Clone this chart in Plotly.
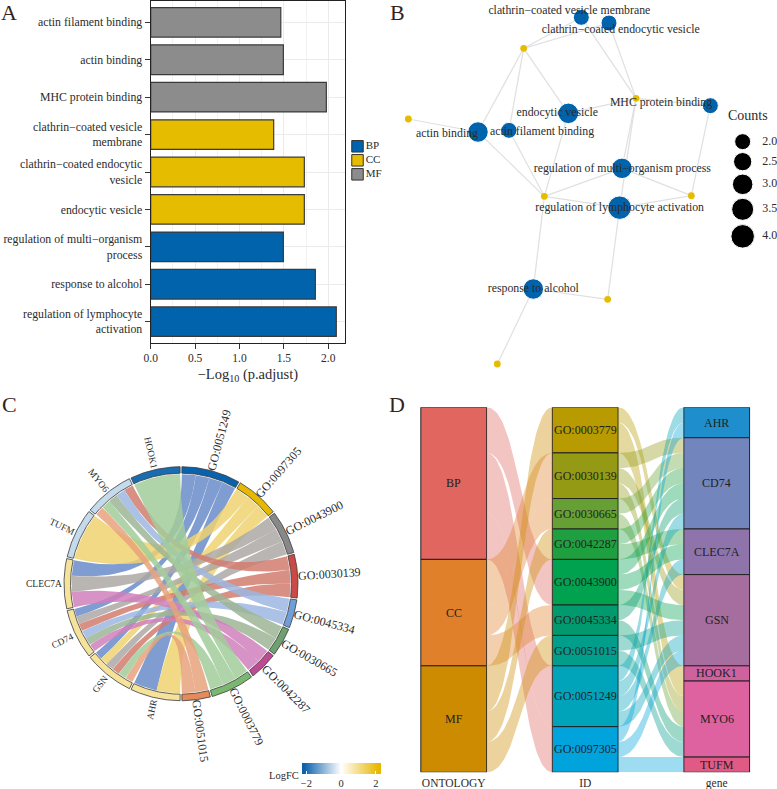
import numpy as np
import plotly.graph_objects as go

W, H = 777, 789
FONT = "Liberation Serif"
TXT = "#2b2b2b"

# ---------- data ----------
terms = ["GO:0051249", "GO:0097305", "GO:0043900", "GO:0030139", "GO:0045334",
         "GO:0030665", "GO:0042287", "GO:0003779", "GO:0051015"]
term_desc = ["regulation of lymphocyte activation", "response to alcohol",
             "regulation of multi−organism process", "endocytic vesicle",
             "clathrin−coated endocytic vesicle", "clathrin−coated vesicle membrane",
             "MHC protein binding", "actin binding", "actin filament binding"]
term_ontology = ["BP", "BP", "BP", "CC", "CC", "CC", "MF", "MF", "MF"]
bar_values = [2.09, 1.854, 1.494, 1.73, 1.73, 1.385, 1.978, 1.494, 1.465]
bar_labels = ["regulation of lymphocyte<br>activation", "response to alcohol",
              "regulation of multi−organism<br>process", "endocytic vesicle",
              "clathrin−coated endocytic<br>vesicle", "clathrin−coated vesicle<br>membrane",
              "MHC protein binding", "actin binding", "actin filament binding"]
ontologies = ["BP", "CC", "MF"]
genes = ["AHR", "GSN", "CD74", "CLEC7A", "TUFM", "MYO6", "HOOK1"]
gene_logfc = [0.9, 0.9, 0.9, 0.9, -0.53, -0.53, -2.1]
AHR_terms = ["GO:0051249", "GO:0097305"]
GSN_terms = ["GO:0003779", "GO:0030139", "GO:0043900", "GO:0051015", "GO:0051249", "GO:0097305"]
CD74_terms = ["GO:0030139", "GO:0030665", "GO:0042287", "GO:0043900", "GO:0045334", "GO:0051249"]
CLEC7A_terms = ["GO:0042287", "GO:0043900", "GO:0051249"]
TUFM_terms = ["GO:0097305"]
MYO6_terms = ["GO:0003779", "GO:0030139", "GO:0030665", "GO:0045334", "GO:0051015"]
HOOK1_terms = ["GO:0003779"]
gene_terms = dict(AHR=AHR_terms, GSN=GSN_terms, CD74=CD74_terms, CLEC7A=CLEC7A_terms,
                  TUFM=TUFM_terms, MYO6=MYO6_terms, HOOK1=HOOK1_terms)

# network layout (arbitrary layout units)
term_layout_x = [689, 430, 696, 535, 657, 574, 961, 264, 357]
term_layout_y = [623, 867, 505, 340, 69, 52, 317, 396, 391]
label_layout_x = [689, 430, 697, 502, 692, 538, 813, 171, 456]
label_layout_y = [624, 868, 507, 339, 90, 33, 310, 403, 397]
gene_layout_x = [653, 463, 738, 904, 322, 401, 55]
gene_layout_y = [898, 589, 295, 587, 1092, 145, 357]
legend_counts = [2.0, 2.5, 3.0, 3.5, 4.0]

# ---------- style ----------
ONT_COL = dict(BP="#0063AC", CC="#E6BC00", MF="#8C8C8C")
RING_COL = ["#0a62ac", "#e6b800", "#888888", "#c94a46", "#6f9ed8", "#6ea070", "#bf4a94", "#7ab872", "#e58a5a"]
RIB_COL = ["#6a8cca", "#eed270", "#aca8a4", "#d27c6e", "#9cb6e0", "#9cb594", "#d07fbc", "#a2cc9a", "#e8a27c"]
ALLUV_COL = {"BP": "#E0665F", "CC": "#E0802A", "MF": "#CC8B00",
             "GO:0003779": "#B89B00", "GO:0030139": "#949A14", "GO:0030665": "#66A034",
             "GO:0042287": "#1FA040", "GO:0043900": "#00A14F", "GO:0045334": "#009A6E",
             "GO:0051015": "#009E8B", "GO:0051249": "#00A4BA", "GO:0097305": "#00A3DC",
             "AHR": "#1E8FCC", "CD74": "#7286BD", "CLEC7A": "#8E74AB", "GSN": "#A66D9F",
             "HOOK1": "#CE619E", "MYO6": "#DF62A0", "TUFM": "#E05A85"}


def dx(a, b):
    return [a / W, b / W]


def dy(top, bot):
    return [1 - bot / H, 1 - top / H]


def rgba(h, a):
    h = h.lstrip("#")
    return f"rgba({int(h[0:2],16)},{int(h[2:4],16)},{int(h[4:6],16)},{a})"


fig = go.Figure()
ann = []

# ---------- panel A ----------
for ont in ontologies:
    idx = [i for i, o in enumerate(term_ontology) if o == ont]
    fig.add_bar(x=[bar_values[i] for i in idx], y=[bar_labels[i] for i in idx], orientation="h",
                width=0.79, marker=dict(color=ONT_COL[ont], line=dict(color="#3a3a3a", width=1.2)),
                xaxis="x", yaxis="y", showlegend=False)
fig.add_scatter(x=[0, 0, 0], y=[0, 1, 2], mode="markers+text", text=ontologies, textposition="middle right",
                textfont=dict(family=FONT, size=11, color=TXT),
                marker=dict(symbol="square", size=11.5, opacity=1, color=[ONT_COL[o] for o in ontologies],
                            line=dict(color="#333333", width=1)),
                xaxis="x5", yaxis="y5", showlegend=False, cliponaxis=False)

# ---------- panel B ----------
size_of = lambda c: np.interp(c, [1, 2, 3, 4], [6.8, 16, 20.5, 23.5])
ex, ey = [], []
for gi, g in enumerate(genes):
    for t in gene_terms[g]:
        k = terms.index(t)
        ex += [gene_layout_x[gi], term_layout_x[k], None]
        ey += [gene_layout_y[gi], term_layout_y[k], None]
fig.add_scatter(x=ex, y=ey, mode="lines", line=dict(color="#e0e0e0", width=1.2), xaxis="x2", yaxis="y2",
                showlegend=False)
term_counts = [sum(t in gene_terms[g] for g in genes) for t in terms]
fig.add_scatter(x=gene_layout_x, y=gene_layout_y, mode="markers",
                marker=dict(color="#E6BC00", size=float(size_of(1)), opacity=1),
                xaxis="x2", yaxis="y2", showlegend=False)
fig.add_scatter(x=term_layout_x, y=term_layout_y, mode="markers",
                marker=dict(color="#0063AC", opacity=1, size=[float(size_of(c)) for c in term_counts]),
                xaxis="x2", yaxis="y2", showlegend=False)
fig.add_scatter(x=label_layout_x, y=label_layout_y, mode="text", text=term_desc,
                textfont=dict(family=FONT, size=11.8, color=TXT), xaxis="x2", yaxis="y2",
                showlegend=False, cliponaxis=False)
legend_y = [425, 485, 553, 628, 709]
fig.add_scatter(x=[1058] * 5, y=legend_y, mode="markers",
                marker=dict(color="#000000", opacity=1, size=[float(size_of(c)) for c in legend_counts]),
                xaxis="x2", yaxis="y2", showlegend=False, cliponaxis=False)
fig.add_scatter(x=[1117] * 5, y=legend_y, mode="text", text=[f"{c:.1f}" for c in legend_counts],
                textposition="middle right", textfont=dict(family=FONT, size=12, color=TXT),
                xaxis="x2", yaxis="y2", showlegend=False, cliponaxis=False)
ann.append(dict(x=1009, y=345, xref="x2", yref="y2", text="Counts", showarrow=False, xanchor="left",
                font=dict(family=FONT, size=14, color=TXT)))

# ---------- panel C ----------
R_OUT, R_IN, R_RIB = 117, 110.5, 109.5
PAD = 0.45
step_t = 180 / 24
step_g = 180 / 7


def pol(r, deg):
    th = np.radians(deg)
    return r * np.sin(th), r * np.cos(th)


t_start, a = {}, 0.0
t_span = {}
for k, t in enumerate(terms):
    t_start[t] = a
    t_span[t] = term_counts[k] * step_t
    a += t_span[t]
g_start = {g: 180 + i * step_g for i, g in enumerate(genes)}


def lin_col(v):
    low, hi = (10, 98, 172), (230, 184, 0)
    c = low if v < 0 else hi
    f = min(abs(v) / (2.25 if v < 0 else 2.3), 1)
    return "rgb(%d,%d,%d)" % tuple(255 + (x - 255) * f for x in c)


def bez(p0, p1, n=40):
    s = np.linspace(0, 1, n)
    return ((1 - s) ** 2 * p0[0] + s ** 2 * p1[0], (1 - s) ** 2 * p0[1] + s ** 2 * p1[1])


# angular slots of every link
link_term, link_gene = {}, {}
for k, t in enumerate(terms):
    gl = [g for g in genes if t in gene_terms[g]][::-1]
    w = (t_span[t] - 2 * PAD) / len(gl)
    for j, g in enumerate(gl):
        s = t_start[t] + PAD + j * w
        link_term[(t, g)] = (s, s + w)
for g in genes:
    tl = [t for t in terms if t in gene_terms[g]][::-1]
    w = (step_g - 2 * PAD) / len(tl)
    for j, t in enumerate(tl):
        s = g_start[g] + PAD + j * w
        link_gene[(t, g)] = (s, s + w)

for k, t in enumerate(terms):
    for g in genes:
        if t not in gene_terms[g]:
            continue
        a1, a2 = link_term[(t, g)]
        g1, g2 = link_gene[(t, g)]
        ta = np.linspace(a1, a2, 20)
        ga = np.linspace(g1, g2, 20)
        x1, y1 = pol(R_RIB, ta)
        x2, y2 = bez(pol(R_RIB, a2), pol(R_RIB, g1))
        x3, y3 = pol(R_RIB, ga)
        x4, y4 = bez(pol(R_RIB, g2), pol(R_RIB, a1))
        fig.add_scatter(x=np.r_[x1, x2, x3, x4], y=np.r_[y1, y2, y3, y4], mode="lines", fill="toself",
                        fillcolor=rgba(RIB_COL[k], 0.85), line=dict(width=0), xaxis="x3", yaxis="y3",
                        showlegend=False, hoverinfo="skip")


def ring(s, e, col):
    ang = np.linspace(s + PAD, e - PAD, 40)
    xo, yo = pol(R_OUT, ang)
    xi, yi = pol(R_IN, ang[::-1])
    fig.add_scatter(x=np.r_[xo, xi, xo[0]], y=np.r_[yo, yi, yo[0]], mode="lines", fill="toself", fillcolor=col,
                    line=dict(color="#3a3a3a", width=0.8), xaxis="x3", yaxis="y3", showlegend=False, hoverinfo="skip")


for k, t in enumerate(terms):
    ring(t_start[t], t_start[t] + t_span[t], RING_COL[k])
    mid = t_start[t] + t_span[t] / 2
    x, y = pol(148.5, mid)
    ann.append(dict(x=x, y=y, xref="x3", yref="y3", text=t, textangle=mid - 90, showarrow=False,
                    font=dict(family=FONT, size=12, color=TXT)))
for i, g in enumerate(genes):
    ring(g_start[g], g_start[g] + step_g, lin_col(gene_logfc[i]))
    mid = g_start[g] + step_g / 2
    x, y = pol(R_OUT + 3 + len(g) * 2.9, mid)
    ann.append(dict(x=x, y=y, xref="x3", yref="y3", text=g, textangle=(mid + 90) % 360 if (mid + 90) % 360 < 180 else (mid + 90) % 360 - 360,
                    showarrow=False, font=dict(family=FONT, size=9.5, color=TXT)))
# colour bar legend driven by the gene fold changes
fig.add_scatter(x=[0] * 7, y=[0] * 7, mode="markers", marker=dict(color=gene_logfc, coloraxis="coloraxis", size=1, opacity=0),
                xaxis="x3", yaxis="y3", showlegend=False, hoverinfo="skip")
ann.append(dict(x=284 / W, y=1 - 775 / H, xref="paper", yref="paper", xanchor="center", yanchor="middle", text="LogFC",
                showarrow=False, font=dict(family=FONT, size=10.5, color=TXT)))

# ---------- panel D ----------
BW = 0.25
id_order = sorted(terms)
gene_order = sorted(genes)
ont_members = {o: [t for t in id_order if term_ontology[terms.index(t)] == o] for o in ontologies}


def flow(x0, x1, a0, b0, a1, b1, col):
    s = np.linspace(0, 1, 50)
    sig = 3 * (1 - s) * s ** 2 + s ** 3
    tx = (3 * (1 - s) ** 2 * s * 0.5 + 3 * (1 - s) * s ** 2 * 0.5 + s ** 3)
    xs = x0 + (x1 - x0) * tx
    top = a0 + (a1 - a0) * sig
    bot = b0 + (b1 - b0) * sig
    fig.add_scatter(x=np.r_[xs, xs[::-1]], y=np.r_[top, bot[::-1]], mode="lines", fill="toself", fillcolor=rgba(col, 0.38),
                    line=dict(width=0), xaxis="x4", yaxis="y4", showlegend=False, hoverinfo="skip")


def stratum(xc, names, sizes):
    pos = {}
    c = 0
    for n, s in zip(names, sizes):
        fig.add_bar(x=[xc], y=[s], base=[c], width=2 * BW, marker=dict(color=ALLUV_COL[n], line=dict(color="#222222", width=1)),
                    xaxis="x4", yaxis="y4", showlegend=False, hoverinfo="skip")
        ann.append(dict(x=xc, y=c + s / 2, xref="x4", yref="y4", text=n, showarrow=False,
                        font=dict(family=FONT, size=12, color="#222222")))
        pos[n] = c
        c += s
    return pos


id_sizes = [term_counts[terms.index(t)] for t in id_order]
ont_sizes = [sum(term_counts[terms.index(t)] for t in ont_members[o]) for o in ontologies]
gene_sizes = [len(gene_terms[g]) for g in gene_order]
p_ont = stratum(1, ontologies, ont_sizes)
p_id = stratum(2, id_order, id_sizes)
p_gene = stratum(3, gene_order, gene_sizes)

for o in ontologies:
    c0 = p_ont[o]
    for t in ont_members[o]:
        s = term_counts[terms.index(t)]
        flow(1 + BW, 2 - BW, c0, c0 + s, p_id[t], p_id[t] + s, ALLUV_COL[o])
        c0 += s
for t in id_order:
    c0 = p_id[t]
    for g in gene_order:
        if t in gene_terms[g]:
            c1 = p_gene[g] + sorted(gene_terms[g]).index(t)
            flow(2 + BW, 3 - BW, c0, c0 + 1, c1, c1 + 1, ALLUV_COL[t])
            c0 += 1

# ---------- letters ----------
for l, x, y in [("A", 9, 13), ("B", 397, 13), ("C", 9, 404), ("D", 397, 404)]:
    ann.append(dict(x=x / W, y=1 - y / H, xref="paper", yref="paper", xanchor="center", yanchor="middle", text=l,
                    showarrow=False, font=dict(family=FONT, size=22, color="#33241c")))

# ---------- layout ----------
unit_x = 131.5
x1_px = 453.7
D_L, D_R = 400, 775
tickf = dict(family=FONT, size=11.8, color=TXT)
fig.update_layout(
    width=W, height=H, margin=dict(l=0, r=0, t=0, b=0, autoexpand=False), paper_bgcolor="white", plot_bgcolor="white",
    barmode="overlay", showlegend=False, font=dict(family=FONT, color=TXT),
    coloraxis=dict(cmin=-2.25, cmax=2.3,
                   colorscale=[[0, "#0a62ac"], [0.0275, "#0a62ac"], [0.4945, "#ffffff"], [0.97, "#e6b800"], [1, "#e6b800"]],
                   colorbar=dict(orientation="h", x=302 / W, xanchor="left", y=1 - 762.7 / H, yanchor="top",
                                 len=79, lenmode="pixels", thickness=10.5, thicknessmode="pixels", outlinewidth=0,
                                 xpad=0, ypad=0, tickvals=[-2, 0, 2], ticks="inside", tickcolor="white", ticklen=3,
                                 tickfont=dict(family=FONT, size=10.5, color=TXT))),
    xaxis=dict(domain=dx(150.7, 345), range=[0, 2.188], dtick=0.5, tickformat=".1f", ticks="outside", ticklen=4.5,
               tickcolor="#333333", showline=True, mirror=True, linecolor="#222222", linewidth=1.2,
               showgrid=True, gridcolor="#ebebeb", gridwidth=1, zeroline=False,
               minor=dict(dtick=0.25, showgrid=True, gridcolor="#f2f2f2", gridwidth=0.6),
               tickfont=dict(family=FONT, size=11.5, color=TXT),
               title=dict(text="−Log<sub>10</sub> (p.adjust)", font=dict(family=FONT, size=14.5, color=TXT), standoff=5),
               anchor="y"),
    yaxis=dict(domain=dy(1, 343), range=[-0.57, 8.57], type="category", categoryorder="array", categoryarray=bar_labels,
               ticks="outside", ticklen=5, tickcolor="#333333", showline=True, mirror=True, linecolor="#222222", linewidth=1.2,
               showgrid=True, gridcolor="#ebebeb", zeroline=False, tickfont=tickf, anchor="x"),
    xaxis2=dict(domain=dx(390, 777), range=[0, 1161], visible=False, anchor="y2"),
    yaxis2=dict(domain=dy(0, 380), range=[1140, 0], visible=False, anchor="x2"),
    xaxis3=dict(domain=dx(0, 390), range=[-181, 209], visible=False, anchor="y3"),
    yaxis3=dict(domain=dy(395, 789), range=[583.7 - 789, 583.7 - 395], visible=False, anchor="x3"),
    xaxis4=dict(domain=dx(D_L, D_R), range=[1 + (D_L - x1_px) / unit_x, 1 + (D_R - x1_px) / unit_x], tickvals=[1, 2, 3],
                ticktext=["ONTOLOGY", "ID", "gene"], tickfont=dict(family=FONT, size=11.5, color=TXT), showgrid=False,
                zeroline=False, ticks="", ticklabelstandoff=2, anchor="y4"),
    yaxis4=dict(domain=dy(407.3, 772.3), range=[24, 0], visible=False, anchor="x4"),
    xaxis5=dict(domain=dx(351.5, 363.5), range=[-1, 1], visible=False, anchor="y5"),
    yaxis5=dict(domain=dy(139.3, 181.3), range=[2.5, -0.5], visible=False, anchor="x5"),
    annotations=ann,
)
fig.write_html("out.html", config=dict(displayModeBar=False),
               post_script="document.body.style.margin='0';document.documentElement.style.overflow='hidden';")
